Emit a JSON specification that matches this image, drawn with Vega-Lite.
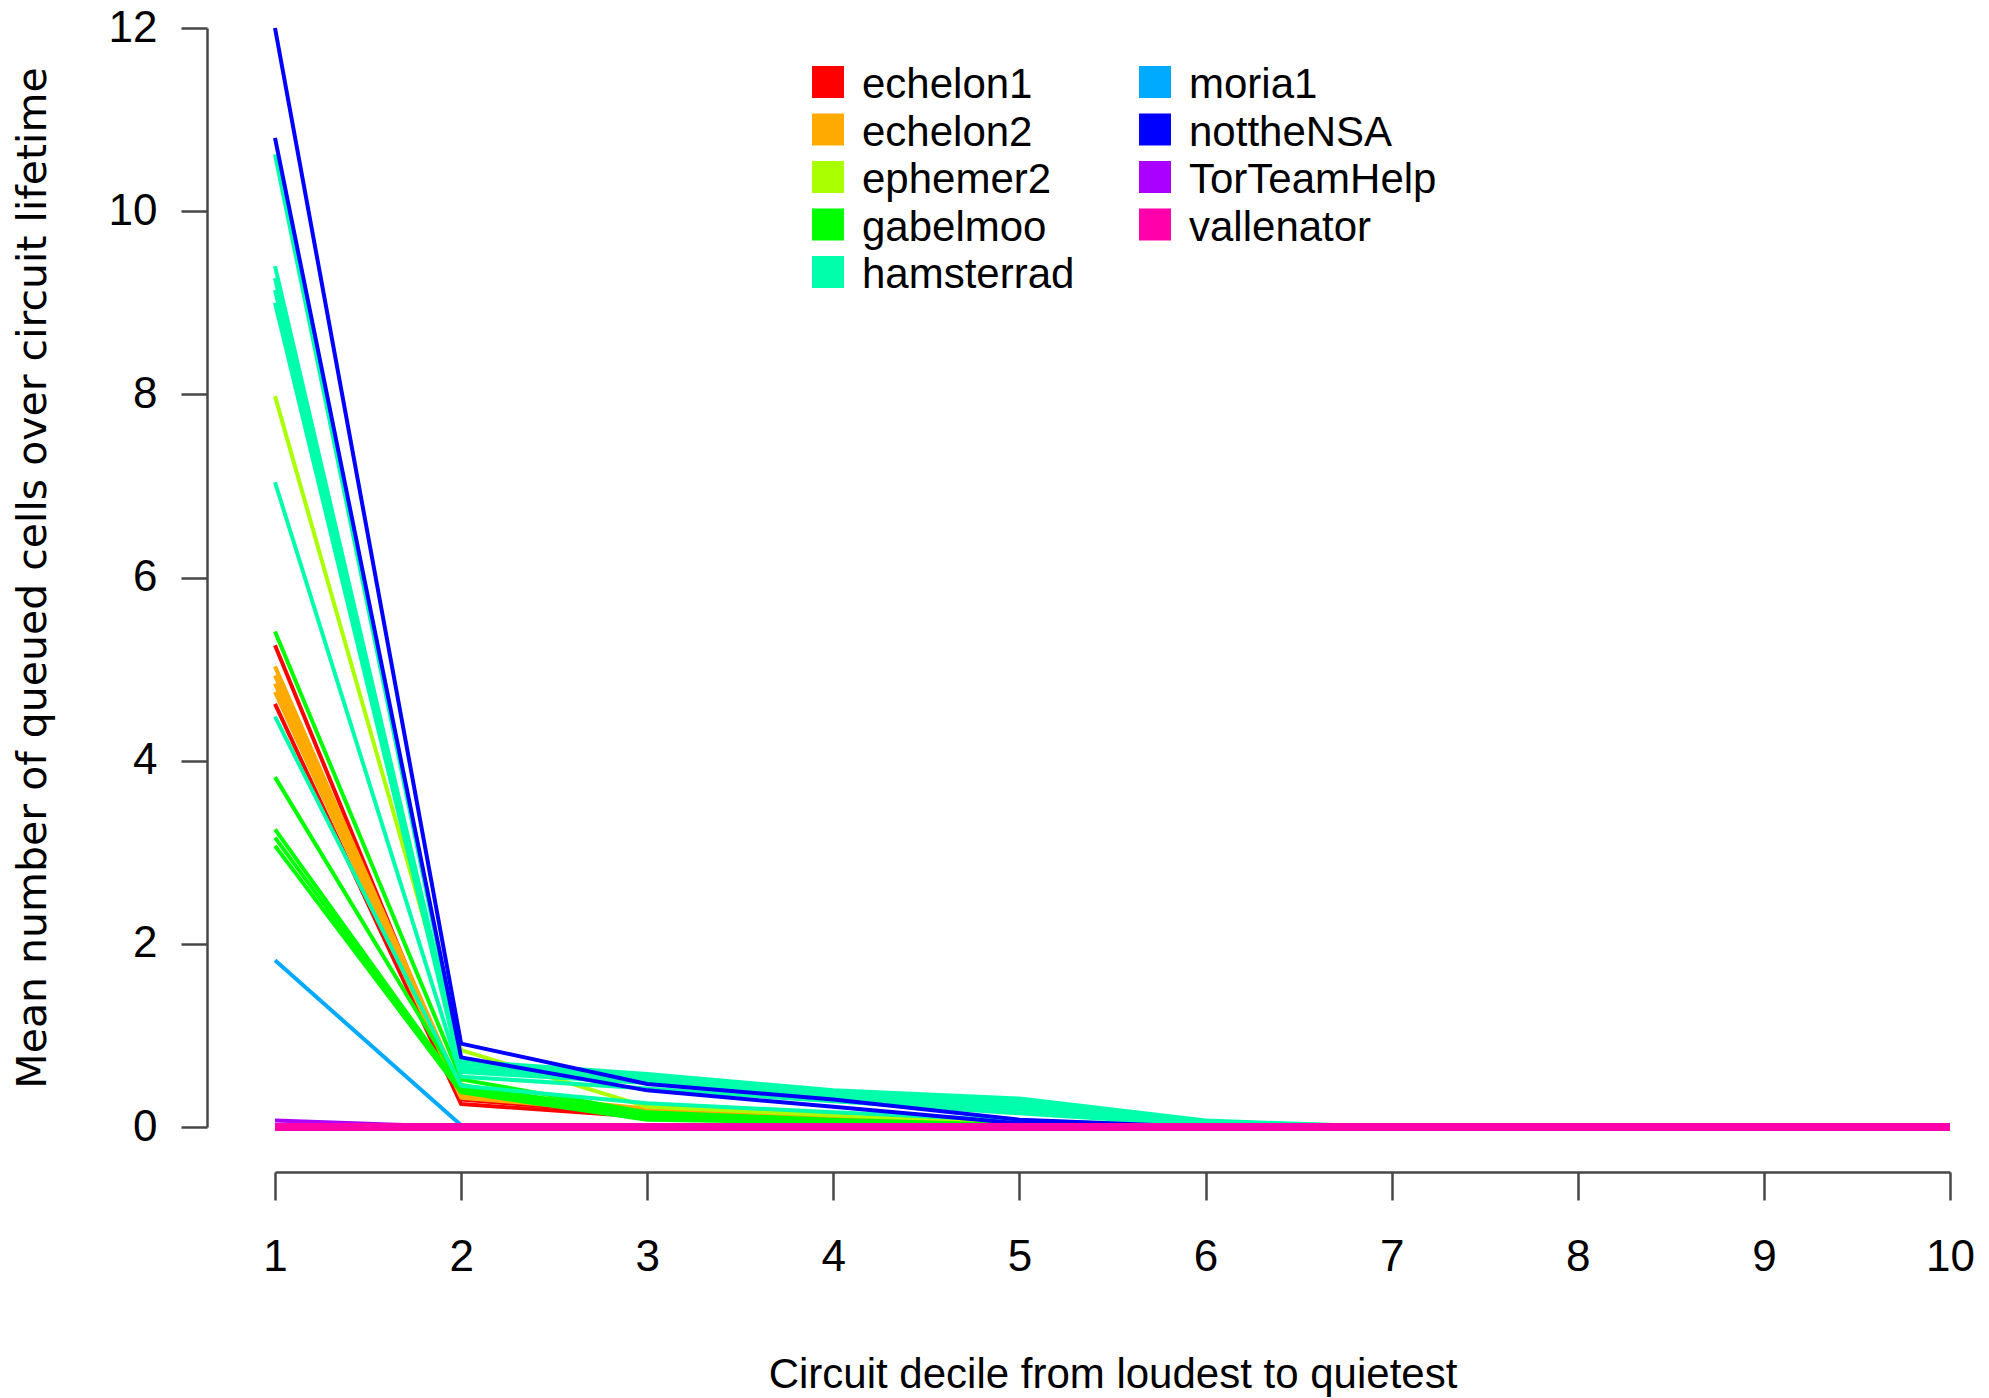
{
"$schema": "https://vega.github.io/schema/vega-lite/v6.json",
"width": 1675, "height": 1099,
"autosize": {"type": "none"},
"padding": {"left": 275, "top": 28, "right": 39, "bottom": 271},
"background": "white",
"config": {"view": {"stroke": null}, "font": "Liberation Sans"},
"data": {"values": [
{"relay":"echelon1","line":"e1a","decile":1,"cells":5.26},{"relay":"echelon1","line":"e1a","decile":2,"cells":0.30},{"relay":"echelon1","line":"e1a","decile":3,"cells":0.14},{"relay":"echelon1","line":"e1a","decile":4,"cells":0.07},{"relay":"echelon1","line":"e1a","decile":5,"cells":0.02},{"relay":"echelon1","line":"e1a","decile":6,"cells":0},{"relay":"echelon1","line":"e1a","decile":7,"cells":0},{"relay":"echelon1","line":"e1a","decile":8,"cells":0},{"relay":"echelon1","line":"e1a","decile":9,"cells":0},{"relay":"echelon1","line":"e1a","decile":10,"cells":0},
{"relay":"echelon1","line":"e1b","decile":1,"cells":4.62},{"relay":"echelon1","line":"e1b","decile":2,"cells":0.25},{"relay":"echelon1","line":"e1b","decile":3,"cells":0.11},{"relay":"echelon1","line":"e1b","decile":4,"cells":0.05},{"relay":"echelon1","line":"e1b","decile":5,"cells":0.01},{"relay":"echelon1","line":"e1b","decile":6,"cells":0},{"relay":"echelon1","line":"e1b","decile":7,"cells":0},{"relay":"echelon1","line":"e1b","decile":8,"cells":0},{"relay":"echelon1","line":"e1b","decile":9,"cells":0},{"relay":"echelon1","line":"e1b","decile":10,"cells":0},
{"relay":"echelon2","line":"e2a","decile":1,"cells":5.03},{"relay":"echelon2","line":"e2a","decile":2,"cells":0.40},{"relay":"echelon2","line":"e2a","decile":3,"cells":0.20},{"relay":"echelon2","line":"e2a","decile":4,"cells":0.12},{"relay":"echelon2","line":"e2a","decile":5,"cells":0.04},{"relay":"echelon2","line":"e2a","decile":6,"cells":0},{"relay":"echelon2","line":"e2a","decile":7,"cells":0},{"relay":"echelon2","line":"e2a","decile":8,"cells":0},{"relay":"echelon2","line":"e2a","decile":9,"cells":0},{"relay":"echelon2","line":"e2a","decile":10,"cells":0},
{"relay":"echelon2","line":"e2b","decile":1,"cells":4.93},{"relay":"echelon2","line":"e2b","decile":2,"cells":0.37},{"relay":"echelon2","line":"e2b","decile":3,"cells":0.18},{"relay":"echelon2","line":"e2b","decile":4,"cells":0.11},{"relay":"echelon2","line":"e2b","decile":5,"cells":0.03},{"relay":"echelon2","line":"e2b","decile":6,"cells":0},{"relay":"echelon2","line":"e2b","decile":7,"cells":0},{"relay":"echelon2","line":"e2b","decile":8,"cells":0},{"relay":"echelon2","line":"e2b","decile":9,"cells":0},{"relay":"echelon2","line":"e2b","decile":10,"cells":0},
{"relay":"echelon2","line":"e2c","decile":1,"cells":4.84},{"relay":"echelon2","line":"e2c","decile":2,"cells":0.35},{"relay":"echelon2","line":"e2c","decile":3,"cells":0.17},{"relay":"echelon2","line":"e2c","decile":4,"cells":0.10},{"relay":"echelon2","line":"e2c","decile":5,"cells":0.03},{"relay":"echelon2","line":"e2c","decile":6,"cells":0},{"relay":"echelon2","line":"e2c","decile":7,"cells":0},{"relay":"echelon2","line":"e2c","decile":8,"cells":0},{"relay":"echelon2","line":"e2c","decile":9,"cells":0},{"relay":"echelon2","line":"e2c","decile":10,"cells":0},
{"relay":"echelon2","line":"e2d","decile":1,"cells":4.75},{"relay":"echelon2","line":"e2d","decile":2,"cells":0.32},{"relay":"echelon2","line":"e2d","decile":3,"cells":0.15},{"relay":"echelon2","line":"e2d","decile":4,"cells":0.09},{"relay":"echelon2","line":"e2d","decile":5,"cells":0.02},{"relay":"echelon2","line":"e2d","decile":6,"cells":0},{"relay":"echelon2","line":"e2d","decile":7,"cells":0},{"relay":"echelon2","line":"e2d","decile":8,"cells":0},{"relay":"echelon2","line":"e2d","decile":9,"cells":0},{"relay":"echelon2","line":"e2d","decile":10,"cells":0},
{"relay":"ephemer2","line":"ep","decile":1,"cells":7.98},{"relay":"ephemer2","line":"ep","decile":2,"cells":0.84},{"relay":"ephemer2","line":"ep","decile":3,"cells":0.22},{"relay":"ephemer2","line":"ep","decile":4,"cells":0.13},{"relay":"ephemer2","line":"ep","decile":5,"cells":0.04},{"relay":"ephemer2","line":"ep","decile":6,"cells":0},{"relay":"ephemer2","line":"ep","decile":7,"cells":0},{"relay":"ephemer2","line":"ep","decile":8,"cells":0},{"relay":"ephemer2","line":"ep","decile":9,"cells":0},{"relay":"ephemer2","line":"ep","decile":10,"cells":0},
{"relay":"gabelmoo","line":"g1","decile":1,"cells":5.41},{"relay":"gabelmoo","line":"g1","decile":2,"cells":0.52},{"relay":"gabelmoo","line":"g1","decile":3,"cells":0.16},{"relay":"gabelmoo","line":"g1","decile":4,"cells":0.08},{"relay":"gabelmoo","line":"g1","decile":5,"cells":0.02},{"relay":"gabelmoo","line":"g1","decile":6,"cells":0},{"relay":"gabelmoo","line":"g1","decile":7,"cells":0},{"relay":"gabelmoo","line":"g1","decile":8,"cells":0},{"relay":"gabelmoo","line":"g1","decile":9,"cells":0},{"relay":"gabelmoo","line":"g1","decile":10,"cells":0},
{"relay":"gabelmoo","line":"g2","decile":1,"cells":3.82},{"relay":"gabelmoo","line":"g2","decile":2,"cells":0.46},{"relay":"gabelmoo","line":"g2","decile":3,"cells":0.13},{"relay":"gabelmoo","line":"g2","decile":4,"cells":0.07},{"relay":"gabelmoo","line":"g2","decile":5,"cells":0.01},{"relay":"gabelmoo","line":"g2","decile":6,"cells":0},{"relay":"gabelmoo","line":"g2","decile":7,"cells":0},{"relay":"gabelmoo","line":"g2","decile":8,"cells":0},{"relay":"gabelmoo","line":"g2","decile":9,"cells":0},{"relay":"gabelmoo","line":"g2","decile":10,"cells":0},
{"relay":"gabelmoo","line":"g3","decile":1,"cells":3.25},{"relay":"gabelmoo","line":"g3","decile":2,"cells":0.42},{"relay":"gabelmoo","line":"g3","decile":3,"cells":0.10},{"relay":"gabelmoo","line":"g3","decile":4,"cells":0.06},{"relay":"gabelmoo","line":"g3","decile":5,"cells":0.01},{"relay":"gabelmoo","line":"g3","decile":6,"cells":0},{"relay":"gabelmoo","line":"g3","decile":7,"cells":0},{"relay":"gabelmoo","line":"g3","decile":8,"cells":0},{"relay":"gabelmoo","line":"g3","decile":9,"cells":0},{"relay":"gabelmoo","line":"g3","decile":10,"cells":0},
{"relay":"gabelmoo","line":"g4","decile":1,"cells":3.16},{"relay":"gabelmoo","line":"g4","decile":2,"cells":0.40},{"relay":"gabelmoo","line":"g4","decile":3,"cells":0.09},{"relay":"gabelmoo","line":"g4","decile":4,"cells":0.05},{"relay":"gabelmoo","line":"g4","decile":5,"cells":0.01},{"relay":"gabelmoo","line":"g4","decile":6,"cells":0},{"relay":"gabelmoo","line":"g4","decile":7,"cells":0},{"relay":"gabelmoo","line":"g4","decile":8,"cells":0},{"relay":"gabelmoo","line":"g4","decile":9,"cells":0},{"relay":"gabelmoo","line":"g4","decile":10,"cells":0},
{"relay":"gabelmoo","line":"g5","decile":1,"cells":3.07},{"relay":"gabelmoo","line":"g5","decile":2,"cells":0.38},{"relay":"gabelmoo","line":"g5","decile":3,"cells":0.08},{"relay":"gabelmoo","line":"g5","decile":4,"cells":0.05},{"relay":"gabelmoo","line":"g5","decile":5,"cells":0},{"relay":"gabelmoo","line":"g5","decile":6,"cells":0},{"relay":"gabelmoo","line":"g5","decile":7,"cells":0},{"relay":"gabelmoo","line":"g5","decile":8,"cells":0},{"relay":"gabelmoo","line":"g5","decile":9,"cells":0},{"relay":"gabelmoo","line":"g5","decile":10,"cells":0},
{"relay":"hamsterrad","line":"h1","decile":1,"cells":10.62},{"relay":"hamsterrad","line":"h1","decile":2,"cells":0.72},{"relay":"hamsterrad","line":"h1","decile":3,"cells":0.58},{"relay":"hamsterrad","line":"h1","decile":4,"cells":0.40},{"relay":"hamsterrad","line":"h1","decile":5,"cells":0.31},{"relay":"hamsterrad","line":"h1","decile":6,"cells":0.07},{"relay":"hamsterrad","line":"h1","decile":7,"cells":0},{"relay":"hamsterrad","line":"h1","decile":8,"cells":0},{"relay":"hamsterrad","line":"h1","decile":9,"cells":0},{"relay":"hamsterrad","line":"h1","decile":10,"cells":0},
{"relay":"hamsterrad","line":"h2","decile":1,"cells":9.40},{"relay":"hamsterrad","line":"h2","decile":2,"cells":0.68},{"relay":"hamsterrad","line":"h2","decile":3,"cells":0.55},{"relay":"hamsterrad","line":"h2","decile":4,"cells":0.37},{"relay":"hamsterrad","line":"h2","decile":5,"cells":0.28},{"relay":"hamsterrad","line":"h2","decile":6,"cells":0.06},{"relay":"hamsterrad","line":"h2","decile":7,"cells":0},{"relay":"hamsterrad","line":"h2","decile":8,"cells":0},{"relay":"hamsterrad","line":"h2","decile":9,"cells":0},{"relay":"hamsterrad","line":"h2","decile":10,"cells":0},
{"relay":"hamsterrad","line":"h3","decile":1,"cells":9.27},{"relay":"hamsterrad","line":"h3","decile":2,"cells":0.64},{"relay":"hamsterrad","line":"h3","decile":3,"cells":0.52},{"relay":"hamsterrad","line":"h3","decile":4,"cells":0.35},{"relay":"hamsterrad","line":"h3","decile":5,"cells":0.25},{"relay":"hamsterrad","line":"h3","decile":6,"cells":0.05},{"relay":"hamsterrad","line":"h3","decile":7,"cells":0},{"relay":"hamsterrad","line":"h3","decile":8,"cells":0},{"relay":"hamsterrad","line":"h3","decile":9,"cells":0},{"relay":"hamsterrad","line":"h3","decile":10,"cells":0},
{"relay":"hamsterrad","line":"h4","decile":1,"cells":9.14},{"relay":"hamsterrad","line":"h4","decile":2,"cells":0.62},{"relay":"hamsterrad","line":"h4","decile":3,"cells":0.50},{"relay":"hamsterrad","line":"h4","decile":4,"cells":0.33},{"relay":"hamsterrad","line":"h4","decile":5,"cells":0.22},{"relay":"hamsterrad","line":"h4","decile":6,"cells":0.04},{"relay":"hamsterrad","line":"h4","decile":7,"cells":0},{"relay":"hamsterrad","line":"h4","decile":8,"cells":0},{"relay":"hamsterrad","line":"h4","decile":9,"cells":0},{"relay":"hamsterrad","line":"h4","decile":10,"cells":0},
{"relay":"hamsterrad","line":"h5","decile":1,"cells":9.00},{"relay":"hamsterrad","line":"h5","decile":2,"cells":0.60},{"relay":"hamsterrad","line":"h5","decile":3,"cells":0.48},{"relay":"hamsterrad","line":"h5","decile":4,"cells":0.31},{"relay":"hamsterrad","line":"h5","decile":5,"cells":0.19},{"relay":"hamsterrad","line":"h5","decile":6,"cells":0.03},{"relay":"hamsterrad","line":"h5","decile":7,"cells":0},{"relay":"hamsterrad","line":"h5","decile":8,"cells":0},{"relay":"hamsterrad","line":"h5","decile":9,"cells":0},{"relay":"hamsterrad","line":"h5","decile":10,"cells":0},
{"relay":"hamsterrad","line":"h6","decile":1,"cells":7.04},{"relay":"hamsterrad","line":"h6","decile":2,"cells":0.55},{"relay":"hamsterrad","line":"h6","decile":3,"cells":0.42},{"relay":"hamsterrad","line":"h6","decile":4,"cells":0.28},{"relay":"hamsterrad","line":"h6","decile":5,"cells":0.15},{"relay":"hamsterrad","line":"h6","decile":6,"cells":0.02},{"relay":"hamsterrad","line":"h6","decile":7,"cells":0},{"relay":"hamsterrad","line":"h6","decile":8,"cells":0},{"relay":"hamsterrad","line":"h6","decile":9,"cells":0},{"relay":"hamsterrad","line":"h6","decile":10,"cells":0},
{"relay":"hamsterrad","line":"h7","decile":1,"cells":4.48},{"relay":"hamsterrad","line":"h7","decile":2,"cells":0.45},{"relay":"hamsterrad","line":"h7","decile":3,"cells":0.26},{"relay":"hamsterrad","line":"h7","decile":4,"cells":0.16},{"relay":"hamsterrad","line":"h7","decile":5,"cells":0.07},{"relay":"hamsterrad","line":"h7","decile":6,"cells":0.01},{"relay":"hamsterrad","line":"h7","decile":7,"cells":0},{"relay":"hamsterrad","line":"h7","decile":8,"cells":0},{"relay":"hamsterrad","line":"h7","decile":9,"cells":0},{"relay":"hamsterrad","line":"h7","decile":10,"cells":0},
{"relay":"moria1","line":"m","decile":1,"cells":1.82},{"relay":"moria1","line":"m","decile":2,"cells":0.02},{"relay":"moria1","line":"m","decile":3,"cells":0},{"relay":"moria1","line":"m","decile":4,"cells":0},{"relay":"moria1","line":"m","decile":5,"cells":0},{"relay":"moria1","line":"m","decile":6,"cells":0},{"relay":"moria1","line":"m","decile":7,"cells":0},{"relay":"moria1","line":"m","decile":8,"cells":0},{"relay":"moria1","line":"m","decile":9,"cells":0},{"relay":"moria1","line":"m","decile":10,"cells":0},
{"relay":"nottheNSA","line":"n1","decile":1,"cells":12.0},{"relay":"nottheNSA","line":"n1","decile":2,"cells":0.91},{"relay":"nottheNSA","line":"n1","decile":3,"cells":0.47},{"relay":"nottheNSA","line":"n1","decile":4,"cells":0.30},{"relay":"nottheNSA","line":"n1","decile":5,"cells":0.08},{"relay":"nottheNSA","line":"n1","decile":6,"cells":0},{"relay":"nottheNSA","line":"n1","decile":7,"cells":0},{"relay":"nottheNSA","line":"n1","decile":8,"cells":0},{"relay":"nottheNSA","line":"n1","decile":9,"cells":0},{"relay":"nottheNSA","line":"n1","decile":10,"cells":0},
{"relay":"nottheNSA","line":"n2","decile":1,"cells":10.8},{"relay":"nottheNSA","line":"n2","decile":2,"cells":0.76},{"relay":"nottheNSA","line":"n2","decile":3,"cells":0.40},{"relay":"nottheNSA","line":"n2","decile":4,"cells":0.22},{"relay":"nottheNSA","line":"n2","decile":5,"cells":0.04},{"relay":"nottheNSA","line":"n2","decile":6,"cells":0},{"relay":"nottheNSA","line":"n2","decile":7,"cells":0},{"relay":"nottheNSA","line":"n2","decile":8,"cells":0},{"relay":"nottheNSA","line":"n2","decile":9,"cells":0},{"relay":"nottheNSA","line":"n2","decile":10,"cells":0},
{"relay":"TorTeamHelp","line":"t","decile":1,"cells":0.07},{"relay":"TorTeamHelp","line":"t","decile":2,"cells":0},{"relay":"TorTeamHelp","line":"t","decile":3,"cells":0},{"relay":"TorTeamHelp","line":"t","decile":4,"cells":0},{"relay":"TorTeamHelp","line":"t","decile":5,"cells":0},{"relay":"TorTeamHelp","line":"t","decile":6,"cells":0},{"relay":"TorTeamHelp","line":"t","decile":7,"cells":0},{"relay":"TorTeamHelp","line":"t","decile":8,"cells":0},{"relay":"TorTeamHelp","line":"t","decile":9,"cells":0},{"relay":"TorTeamHelp","line":"t","decile":10,"cells":0},
{"relay":"vallenator","line":"v","decile":1,"cells":0},{"relay":"vallenator","line":"v","decile":2,"cells":0},{"relay":"vallenator","line":"v","decile":3,"cells":0},{"relay":"vallenator","line":"v","decile":4,"cells":0},{"relay":"vallenator","line":"v","decile":5,"cells":0},{"relay":"vallenator","line":"v","decile":6,"cells":0},{"relay":"vallenator","line":"v","decile":7,"cells":0},{"relay":"vallenator","line":"v","decile":8,"cells":0},{"relay":"vallenator","line":"v","decile":9,"cells":0},{"relay":"vallenator","line":"v","decile":10,"cells":0}
]},
"mark": {"type": "line", "strokeJoin": "round", "strokeCap": "butt", "clip": false},
"encoding": {
  "x": {"field": "decile", "type": "quantitative",
    "scale": {"domain": [1, 10], "nice": false, "zero": false},
    "axis": {"values": [1,2,3,4,5,6,7,8,9,10], "format": "d", "grid": false, "offset": 45,
      "domainColor": "#474747", "domainWidth": 2.5, "tickColor": "#474747", "tickWidth": 2.5, "tickSize": 28,
      "labelPadding": 35, "labelFont": "Liberation Sans", "labelFontSize": 44, "labelColor": "black",
      "labelFlush": false, "labelOverlap": false,
      "title": "Circuit decile from loudest to quietest", "titleFont": "Liberation Sans", "titleFontSize": 42,
      "titleFontWeight": "normal", "titleColor": "black", "titleBaseline": "alphabetic", "titleY": 215}},
  "y": {"field": "cells", "type": "quantitative",
    "scale": {"domain": [0, 12], "nice": false},
    "axis": {"values": [0,2,4,6,8,10,12], "grid": false, "offset": 68,
      "domainColor": "#474747", "domainWidth": 2.5, "tickColor": "#474747", "tickWidth": 2.5, "tickSize": 26,
      "labelPadding": 24, "labelFont": "Liberation Sans", "labelFontSize": 44, "labelColor": "black",
      "labelFlush": false, "labelOverlap": false,
      "title": "Mean number of queued cells over circuit lifetime", "titleFont": "DejaVu Sans", "titleFontSize": 41,
      "titleFontWeight": "normal", "titleColor": "black", "titleBaseline": "alphabetic", "titleAngle": -90, "titleX": -162}},
  "color": {"field": "relay", "type": "nominal",
    "scale": {"domain": ["echelon1","echelon2","ephemer2","gabelmoo","hamsterrad","moria1","nottheNSA","TorTeamHelp","vallenator"],
              "range": ["#FF0000","#FFAA00","#AAFF00","#00FF00","#00FFAA","#00AAFF","#0000FF","#AA00FF","#FF00AA"]},
    "legend": {"orient": "none", "legendX": 532, "legendY": 33, "columns": 2, "columnPadding": 59, "rowPadding": 2.5,
      "padding": 0, "title": null, "symbolType": "square", "symbolSize": 900, "symbolStrokeWidth": 2,
      "labelFont": "Liberation Sans", "labelFontSize": 42, "labelColor": "black", "labelOffset": 13, "labelLimit": 0,
      "encode": {"symbols": {"update": {"fill": {"scale": "color", "field": "value"}, "stroke": {"value": "#333333"}, "strokeWidth": {"value": 2}, "opacity": {"value": 1}}},
                 "labels": {"update": {"dy": {"value": 3}}}}}},
  "detail": {"field": "line"},
  "strokeWidth": {"condition": {"test": "datum.relay === 'vallenator'", "value": 8}, "value": 4}
}
}
